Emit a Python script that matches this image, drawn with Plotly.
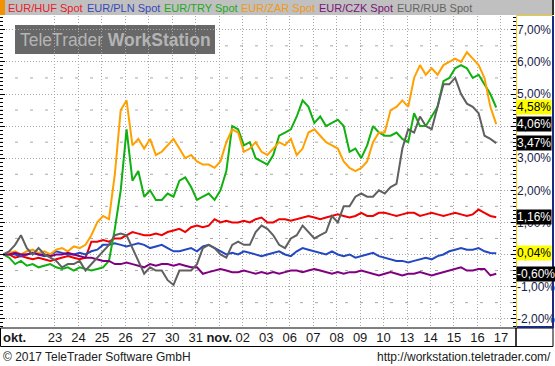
import numpy as np
import plotly.graph_objects as go

# ---------------- data ----------------
# trading-day index: 0 = 20 Oct 2017, 1 = 23 Oct ... 20 = 17 Nov; 4 samples per day
x_days = np.round(np.arange(85) * 0.25 - 1.2, 2)

tick_days = list(range(1, 21))
tick_labels = ["23", "24", "25", "26", "27", "30", "31", "<b>nov.</b>", "02", "03",
               "06", "07", "08", "09", "10", "13", "14", "15", "16", "17"]

series_names = ["EUR/HUF Spot", "EUR/PLN Spot", "EUR/TRY Spot",
                "EUR/ZAR Spot", "EUR/CZK Spot", "EUR/RUB Spot"]

huf = [0.0, 0.0, -0.1, -0.05, -0.1, -0.15, -0.1, -0.15, -0.2, -0.15, -0.1, -0.05, -0.1, -0.15, -0.1,
       0.4, 0.4, 0.45, 0.4, 0.5,
       0.5, 0.6, 0.7, 0.65, 0.6,
       0.6, 0.65, 0.6, 0.7, 0.75,
       0.8, 0.7, 0.85, 0.9, 0.85,
       0.9, 1.1, 1.0, 1.05, 1.0,
       1.0, 1.05, 1.0, 1.1, 1.15,
       1.0, 1.0, 1.1, 1.1, 1.05,
       1.1, 1.15, 1.2, 1.15, 1.1,
       1.15, 1.2, 1.25, 1.2, 1.15,
       1.2, 1.3, 1.2, 1.2, 1.3,
       1.3, 1.25, 1.2, 1.25, 1.3,
       1.3, 1.2, 1.25, 1.3, 1.25,
       1.2, 1.25, 1.3, 1.25, 1.2,
       1.25, 1.4, 1.3, 1.2, 1.16]

pln = [0.0, 0.05, 0.0, -0.05, 0.0, 0.05, 0.0, -0.05, 0.0, 0.1, 0.05, 0.0, 0.0, 0.05, 0.0,
       0.1, 0.15, 0.3, 0.3, 0.35,
       0.3, 0.25, 0.3, 0.35, 0.3,
       0.2, 0.25, 0.3, 0.2, 0.1,
       0.1, 0.15, 0.2, 0.1, 0.25,
       0.3, 0.2, 0.1, 0.0, 0.05,
       0.0, 0.1, 0.05, 0.0, -0.05,
       0.0, 0.05, 0.1, 0.0, -0.05,
       0.1, 0.2, 0.15, 0.1, 0.05,
       0.0, 0.1, 0.0, -0.05, 0.0,
       -0.1, -0.05, 0.0, 0.05, -0.05,
       -0.1, -0.15, -0.2, -0.2, -0.25,
       -0.2, -0.15, -0.1, -0.15, -0.05,
       0.0, 0.1, 0.15, 0.2, 0.15,
       0.15, 0.2, 0.1, 0.05, 0.04]

tryy = [0.0, -0.1, -0.3, -0.2, -0.35, -0.3, -0.4, -0.35, -0.3, -0.4, -0.45, -0.4, -0.5, -0.4, -0.45,
        -0.5, -0.45, -0.4, -0.2, 0.8,
        2.0, 3.9, 2.3, 2.6, 1.8,
        2.0, 1.7, 1.7, 1.9, 1.8,
        2.3, 2.4, 2.1, 1.7, 1.8,
        1.9, 1.7, 2.0, 2.6, 4.0,
        3.9, 3.4, 3.5, 3.0, 2.9,
        2.8, 3.1, 3.7, 3.8, 3.9,
        4.3, 4.8, 4.6, 4.1, 4.3,
        4.0, 4.1, 4.2, 4.0, 3.2,
        3.3, 3.0, 3.4, 4.0, 3.8,
        3.7, 3.7, 3.8, 3.6, 3.5,
        4.4, 4.0, 4.0, 4.3, 4.6,
        5.4, 5.5, 5.8, 5.9, 5.8,
        5.5, 5.6, 5.3, 5.0, 4.58]

zar = [0.0, 0.05, 0.1, 0.0, 0.1, 0.15, 0.05, 0.1, 0.0, 0.15, 0.2, 0.1, 0.25, 0.2, 0.3,
       0.6, 1.0, 1.2, 1.1, 2.5,
       4.5, 4.8, 3.4, 3.6, 3.3,
       3.6, 3.1, 3.2, 3.4, 3.6,
       3.3, 3.0, 3.1, 2.9, 2.8,
       2.8, 2.7, 2.9, 3.5, 3.9,
       3.8, 3.2, 3.3, 3.5, 3.2,
       3.1, 3.3, 3.5, 3.4, 3.6,
       3.1, 3.3, 3.8, 3.9, 3.7,
       3.5, 3.4, 3.3, 2.9, 2.7,
       2.6, 2.7, 2.9, 3.5, 3.8,
       3.8, 4.5, 4.6, 4.8, 4.6,
       5.5, 5.9, 5.6, 5.8, 5.6,
       5.9, 6.0, 6.1, 6.0, 6.3,
       6.1, 5.9, 5.5, 4.6, 4.06]

czk = [0.0, 0.0, 0.05, 0.0, 0.0, 0.05, 0.0, 0.0, -0.05, 0.0, 0.0, 0.05, 0.0, -0.05, -0.1,
       -0.1, -0.15, -0.2, -0.2, -0.3,
       -0.3, -0.25, -0.3, -0.35, -0.4,
       -0.3, -0.35, -0.3, -0.3, -0.35,
       -0.3, -0.35, -0.4, -0.4, -0.6,
       -0.55, -0.5, -0.45, -0.5, -0.55,
       -0.55, -0.5, -0.55, -0.6, -0.55,
       -0.6, -0.55, -0.6, -0.55, -0.5,
       -0.5, -0.55, -0.5, -0.45, -0.5,
       -0.55, -0.6, -0.55, -0.6, -0.55,
       -0.55, -0.5, -0.55, -0.6, -0.65,
       -0.6, -0.55, -0.6, -0.65, -0.6,
       -0.6, -0.55, -0.6, -0.65, -0.6,
       -0.55, -0.5, -0.45, -0.4, -0.5,
       -0.5, -0.45, -0.45, -0.65, -0.60]

rub = [0.0, 0.1, 0.3, 0.6, 0.2, 0.0, 0.2, 0.0, -0.1, -0.2, -0.4, -0.3, -0.3, -0.2, -0.5,
       -0.3, -0.1, 0.1, 0.3, 0.6,
       0.65, 0.6, 0.2, -0.2, -0.6,
       -0.4, -0.5, -0.5, -0.8, -0.95,
       -0.5, -0.5, -0.5, -0.3, 0.2,
       0.3, 0.2, 0.0, -0.1, 0.3,
       0.4, 0.3, 0.3, 0.7, 0.9,
       0.8, 0.6, 0.3, 0.2, 0.5,
       0.6, 0.9, 0.7, 0.5, 0.6,
       0.7, 1.2, 1.0, 1.5, 1.5,
       1.8, 1.9, 1.8, 1.8, 2.0,
       1.9, 2.1, 2.2, 3.3, 3.9,
       3.8, 4.3, 4.0, 3.9, 4.6,
       5.3, 5.3, 5.5, 5.0, 4.7,
       4.6, 4.4, 3.7, 3.6, 3.47]

series_values = [huf, pln, tryy, zar, czk, rub]
line_colors = ["#f00000", "#2448c0", "#10b010", "#ffa000", "#800080", "#606060"]
text_colors = ["#e8202a", "#3848b8", "#20aa20", "#f09a18", "#7a1478", "#646464"]
end_bg = ["black", "#ffff00", "#ffff00", "black", "black", "black"]
end_fg = ["white", "black", "black", "white", "white", "white"]

y_ticks = list(range(-2, 8))
y_ticklabels = [f"{v},00%" for v in y_ticks]

# ---------------- layout geometry ----------------
W, H = 555, 366
L, R, T, B = 0, 39, 16, 38
PW, PH = W - L - R, H - T - B


def xp(px):
    return (px - L) / PW


def yp(py):
    return (H - B - py) / PH


FONT = "Liberation Sans, Arial, sans-serif"

fig = go.Figure()
for name, vals, col in zip(series_names, series_values, line_colors):
    fig.add_trace(go.Scatter(x=x_days, y=vals, mode="lines", name=name,
                             line=dict(color=col, width=2), showlegend=False,
                             hoverinfo="skip"))

grid_col = "#a8a8a8"
fig.update_layout(
    width=W, height=H,
    margin=dict(l=L, r=R, t=T, b=B, pad=0),
    paper_bgcolor="white", plot_bgcolor="white",
    font=dict(family=FONT, size=12, color="#111"),
    xaxis=dict(range=[-1.343, 20.642], tickmode="array", tickvals=tick_days,
               ticktext=tick_labels, showgrid=True, gridcolor=grid_col,
               griddash="1px,2px", gridwidth=1, ticks="", zeroline=False,
               showline=False, automargin=False,
               tickfont=dict(size=13, color="#1a1a1a", family=FONT)),
    yaxis=dict(range=[-2.29, 7.43], side="right", tickmode="array",
               tickvals=y_ticks, ticktext=y_ticklabels, showgrid=True,
               gridcolor=grid_col, griddash="1px,2px", gridwidth=1,
               ticks="inside", ticklen=5, tickcolor="black", tickwidth=1,
               mirror="ticks", zeroline=False, showline=False, automargin=False,
               minor=dict(tickmode="linear", tick0=0, dtick=0.125, ticks="inside",
                          ticklen=3, tickcolor="black", showgrid=False),
               tickfont=dict(size=12, color="#161c48", family=FONT)),
)

shapes = []
# half-percent dashed minor grid
for lvl in np.arange(-1.5, 7.0, 1.0):
    shapes.append(dict(type="line", xref="paper", yref="y", x0=0, x1=1, y0=lvl, y1=lvl,
                       line=dict(color=grid_col, width=1, dash="3px,12px"), layer="below"))
# watermark box
shapes.append(dict(type="rect", xref="paper", yref="paper", x0=xp(15), x1=xp(215),
                   y0=yp(54), y1=yp(25), fillcolor="#686868", line=dict(width=0),
                   layer="below"))
# legend bar
shapes.append(dict(type="rect", xref="paper", yref="paper", x0=xp(0), x1=xp(553),
                   y0=yp(15), y1=yp(0), fillcolor="#c0c0c0", line=dict(width=0)))
shapes.append(dict(type="rect", xref="paper", yref="paper", x0=xp(0), x1=xp(5),
                   y0=yp(15), y1=yp(0), fillcolor="#f39200", line=dict(width=0)))
shapes.append(dict(type="line", xref="paper", yref="paper", x0=xp(553), x1=xp(553),
                   y0=yp(15), y1=yp(0), line=dict(color="#303030", width=2)))
# x-label row
shapes.append(dict(type="rect", xref="paper", yref="paper", x0=xp(0.5), x1=xp(516),
                   y0=yp(346.5), y1=yp(328), line=dict(color="black", width=1)))
shapes.append(dict(type="rect", xref="paper", yref="paper", x0=xp(516), x1=xp(553),
                   y0=yp(346.5), y1=yp(328), line=dict(color="black", width=1)))
# right axis panel borders
shapes.append(dict(type="line", xref="paper", yref="paper", x0=xp(516.5), x1=xp(516.5),
                   y0=yp(328), y1=yp(15.5), line=dict(color="#f0cc20", width=1)))
shapes.append(dict(type="line", xref="paper", yref="paper", x0=xp(516.5), x1=xp(553),
                   y0=yp(15.5), y1=yp(15.5), line=dict(color="#f0cc20", width=1)))
shapes.append(dict(type="line", xref="paper", yref="paper", x0=xp(553), x1=xp(553),
                   y0=yp(327), y1=yp(16), line=dict(color="#1a2a80", width=2)))
shapes.append(dict(type="line", xref="paper", yref="paper", x0=xp(516.5), x1=xp(554),
                   y0=yp(327), y1=yp(327), line=dict(color="#1a2a80", width=2)))
fig.update_layout(shapes=shapes)

ann = []
legend_x = [6, 85, 162, 239, 317, 395]
for name, col, px in zip(series_names, text_colors, legend_x):
    ann.append(dict(x=xp(px), y=yp(7.5), xref="paper", yref="paper", text=name,
                    showarrow=False, xanchor="left", yanchor="middle",
                    font=dict(size=11, color=col, family=FONT)))
# watermark text
ann.append(dict(x=xp(115), y=yp(40), xref="paper", yref="paper",
                text="TeleTrader <b>WorkStation</b>", showarrow=False,
                xanchor="center", yanchor="middle",
                font=dict(size=17.5, color="#b4b4b4", family=FONT)))
# month label for October
ann.append(dict(x=xp(1), y=yp(337.5), xref="paper", yref="paper", text="<b>okt.</b>",
                showarrow=False, xanchor="left", yanchor="middle",
                font=dict(size=13, color="#1a1a1a", family=FONT)))
# footer
ann.append(dict(x=xp(1), y=yp(357), xref="paper", yref="paper",
                text="© 2017 TeleTrader Software GmbH", showarrow=False,
                xanchor="left", yanchor="middle",
                font=dict(size=12, color="#202020", family=FONT)))
ann.append(dict(x=xp(553), y=yp(357.5), xref="paper", yref="paper",
                text="http://workstation.teletrader.com/", showarrow=False,
                xanchor="right", yanchor="middle",
                font=dict(size=12, color="#202020", family=FONT)))
# end-value labels
for vals, bg, fg in zip(series_values, end_bg, end_fg):
    v = vals[-1]
    ann.append(dict(x=1.0, y=v, xref="paper", yref="y",
                    text=f"{v:.2f}%".replace(".", ","), showarrow=False,
                    xanchor="left", yanchor="middle", xshift=0,
                    bgcolor=bg, borderpad=0,
                    font=dict(size=12, color=fg, family=FONT)))
fig.update_layout(annotations=ann)

fig.write_html("out.html",
               config={"displayModeBar": False, "staticPlot": True},
               post_script="document.body.style.margin='0';"
                           "document.body.style.overflow='hidden';")
